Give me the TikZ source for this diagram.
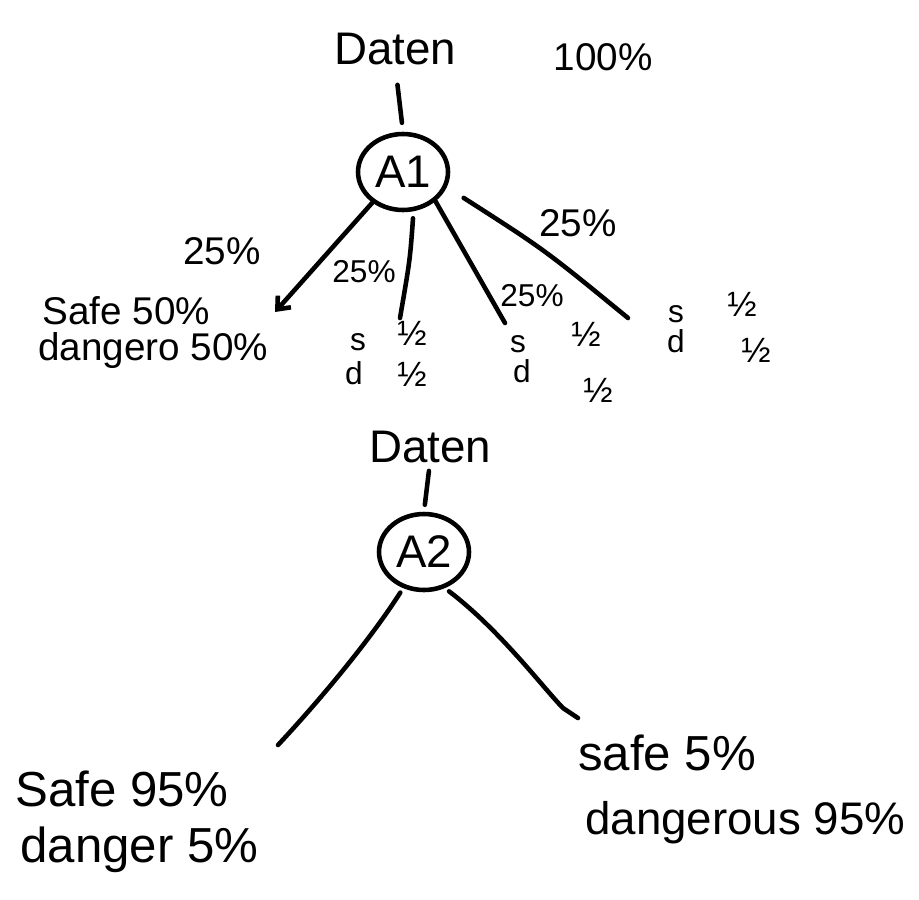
\documentclass[tikz,border=0pt]{standalone}
\usepackage{fontspec}
\setmainfont{Liberation Sans}
\usetikzlibrary{shapes.geometric,arrows.meta}
\begin{document}
\begin{tikzpicture}[x=0.02cm,y=-0.02cm,
  pen/.style={line width=2.6pt,line cap=round,line join=round},
  txt/.style={inner sep=0pt,anchor=base},
  big/.style={font=\fontsize{26}{30}\selectfont},
  mid/.style={font=\fontsize{22}{26}\selectfont},
  lbl/.style={font=\fontsize{18}{22}\selectfont},
  small/.style={font=\fontsize{18}{22}\selectfont},
  frac/.style={font=\fontsize{20}{24}\selectfont},
  huge/.style={font=\fontsize{28}{33}\selectfont},
  split/.style={pen,draw,ellipse,minimum width=1.8cm,minimum height=1.52cm,inner sep=0pt,font=\fontsize{26}{30}\selectfont}]
\useasboundingbox (0,0) rectangle (919,899);

% ---- first tree ----
\node[txt,big] (daten1) at (395,64) {Daten};
\node[txt,mid] (pct100) at (603,70) {100\%};
\node[split] (A1) at (403,172) {A1};
\draw[pen,shorten <=0.42cm,shorten >=0.18cm] (daten1.base) -- (A1.north);

\coordinate (e1) at (275,312);
\coordinate (e2) at (400,318);
\coordinate (e3) at (505,323);
\coordinate (e4) at (628,318);

\draw[pen,-{Straight Barb[length=6pt,width=10pt]}] (A1.225) -- (e1);
\draw[pen,shorten <=4pt] (A1.285) .. controls (410,260) .. (e2);
\draw[pen] (A1.318) .. controls (470,262) .. (e3);
\draw[pen,shorten <=0.4cm] (A1.341) .. controls (545,250) .. (e4);

\node[txt,mid] (p1) at (222,264) {25\%};
\node[txt,lbl] (p2) at (364,282) {25\%};
\node[txt,lbl] (p3) at (532,306) {25\%};
\node[txt,mid] (p4) at (578,236) {25\%};

% leaves of the first tree
\node[txt,mid,anchor=base west] (leaf1a) at (42,324) {Safe 50\%};
\node[txt,mid,anchor=base west] (leaf1b) at (38,360) {dangero 50\%};

\node[txt,small] (s2) at (358,350) {s};
\node[txt,small] (d2) at (354,384) {d};
\node[txt,frac] (h2a) at (412,345) {½};
\node[txt,frac] (h2b) at (412,386) {½};

\node[txt,small] (s3) at (518,352) {s};
\node[txt,small] (d3) at (522,382) {d};
\node[txt,frac] (h3a) at (586,346) {½};
\node[txt,frac] (h3b) at (598,402) {½};

\node[txt,small] (s4) at (676,322) {s};
\node[txt,small] (d4) at (676,352) {d};
\node[txt,frac] (h4a) at (742,316) {½};
\node[txt,frac] (h4b) at (756,362) {½};

% ---- second tree ----
\node[txt,big] (daten2) at (430,462) {Daten};
\node[split] (A2) at (424,552) {A2};
\draw[pen,shorten <=0.18cm,shorten >=0.14cm] (daten2.base) -- (A2.north);

\coordinate (f1) at (278,745);
\coordinate (f2) at (578,718);
\draw[pen,shorten <=3pt] (A2.240) .. controls (370,640) and (320,700) .. (f1);
\draw[pen,shorten <=3pt] (A2.300) .. controls (500,630) and (545,690) .. (563,708) -- (f2);

\node[txt,huge,anchor=base west] (leaf5a) at (15,806) {Safe 95\%};
\node[txt,huge,anchor=base west] (leaf5b) at (20,862) {danger 5\%};
\node[txt,huge,anchor=base west] (leaf6a) at (578,770) {safe 5\%};
\node[txt,font=\fontsize{26}{30}\selectfont,anchor=base west] (leaf6b) at (585,834) {dangerous 95\%};
\end{tikzpicture}
\end{document}
